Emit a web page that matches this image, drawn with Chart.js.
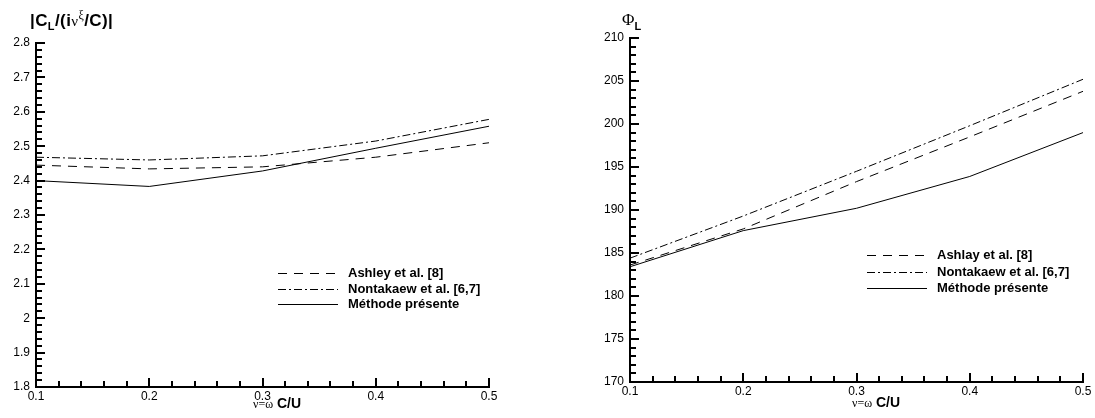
<!DOCTYPE html>
<html>
<head>
<meta charset="utf-8">
<script src="https://cdn.jsdelivr.net/npm/chart.js@4"></script>
<style>
  body { margin: 0; background: #fff; width: 1095px; height: 418px; position: relative; overflow: hidden; font-family: "Liberation Sans", Arial, sans-serif; color: #000; }
  canvas { position: absolute; top: 0; }
  .titre { position: absolute; white-space: nowrap; color: #000; line-height: 1; }
  .sym { font-family: "Liberation Serif", "DejaVu Serif", serif; font-weight: normal; color: #000; }
  .bas { position: relative; top: 4px; font-size: 11px; color: #000; }
  .haut { position: relative; top: -7px; font-size: 12px; }
</style>
</head>
<body>
<canvas id="grafCL" width="547" height="418" style="left:0"></canvas>
<canvas id="grafPhi" width="548" height="418" style="left:547px"></canvas>

<div class="titre" style="left:30px;top:12px;font-size:17px;font-weight:bold;letter-spacing:0.4px">|C<span class="bas">L</span>/(i<span class="sym" style="font-size:15px">ν</span><span class="sym haut">ξ</span>/C)|</div>
<div class="titre" style="left:253px;top:396px;font-size:14px;font-weight:bold"><span class="sym" style="font-size:12px">ν=ω</span> C/U</div>

<div class="titre" style="left:622px;top:11px;font-size:17px"><span class="sym">Φ</span><span class="bas" style="font-weight:bold;font-size:11px;top:5px">L</span></div>
<div class="titre" style="left:852px;top:395px;font-size:14px;font-weight:bold"><span class="sym" style="font-size:12px">ν=ω</span> C/U</div>

<script>
// nu = omega C / U
const nu = [0.1, 0.2, 0.3, 0.4, 0.5];

// |CL/(i nu xi / C)|
const clAshley = [2.445, 2.434, 2.440, 2.468, 2.510];
const clNontakaew = [2.468, 2.460, 2.472, 2.515, 2.578];
const clPresente = [2.400, 2.383, 2.428, 2.494, 2.558];

// phase Phi_L
const phiAshlay = [183.6, 187.8, 193.3, 198.5, 203.8];
const phiNontakaew = [184.4, 189.3, 194.5, 199.8, 205.2];
const phiPresente = [183.4, 187.6, 190.2, 193.9, 199.0];

const legendeCL = ['Ashley et al. [8]', 'Nontakaew et al. [6,7]', 'Méthode présente'];
const legendePhi = ['Ashlay et al. [8]', 'Nontakaew et al. [6,7]', 'Méthode présente'];

const TIRETS = [9, 7];
const TIRET_POINT = [8, 3, 2, 3];
const FONTE = '"Liberation Sans", Arial, sans-serif';

function serie(label, ys, dash) {
  return {
    label: label,
    data: nu.map((x, i) => ({ x: x, y: ys[i] })),
    borderColor: '#000',
    borderWidth: 1,
    borderDash: dash,
    pointRadius: 0,
    tension: 0,
    fill: false
  };
}

function estMajeur(v, pas) {
  const q = v / pas;
  return Math.abs(q - Math.round(q)) < 1e-6;
}

// petites graduations vers l'interieur, comme Tecplot
const graduations = {
  id: 'graduations',
  afterDraw(chart, args, opts) {
    const ctx = chart.ctx, a = chart.chartArea;
    const sx = chart.scales.x, sy = chart.scales.y;
    ctx.save();
    ctx.setLineDash([]);
    ctx.strokeStyle = '#000';
    ctx.lineWidth = 2;
    ctx.beginPath();
    sx.ticks.forEach(t => {
      const px = Math.round(sx.getPixelForValue(t.value));
      const l = estMajeur(t.value, 0.1) ? 9 : 6;
      ctx.moveTo(px, a.bottom);
      ctx.lineTo(px, a.bottom - l);
    });
    sy.ticks.forEach(t => {
      const py = Math.round(sy.getPixelForValue(t.value));
      const l = estMajeur(t.value, opts.pasMajeur) ? 9 : 6;
      ctx.moveTo(a.left, py);
      ctx.lineTo(a.left + l, py);
    });
    ctx.stroke();
    ctx.restore();
  }
};

const legendeInterne = {
  id: 'legendeInterne',
  afterDraw(chart, args, opts) {
    const ctx = chart.ctx;
    ctx.save();
    ctx.font = 'bold 13px ' + FONTE;
    ctx.textBaseline = 'middle';
    ctx.fillStyle = '#000';
    chart.data.datasets.forEach((ds, i) => {
      const y = Math.round(opts.y + i * opts.pas) + 0.5;
      ctx.strokeStyle = '#000';
      ctx.lineWidth = 1;
      ctx.setLineDash(ds.borderDash || []);
      ctx.beginPath();
      ctx.moveTo(opts.x, y);
      ctx.lineTo(opts.x + 60, y);
      ctx.stroke();
      ctx.setLineDash([]);
      ctx.fillText(ds.label, opts.x + 70, y);
    });
    ctx.restore();
  }
};

function options(cfg) {
  return {
    responsive: false,
    animation: false,
    layout: { padding: cfg.padding },
    plugins: {
      legend: { display: false },
      tooltip: { enabled: false },
      legendeInterne: cfg.legende,
      graduations: { pasMajeur: cfg.pasMajeur }
    },
    scales: {
      x: {
        type: 'linear',
        min: 0.1, max: 0.5,
        afterFit: s => { s.height = cfg.hauteurX; },
        grid: { drawOnChartArea: false, drawTicks: false },
        border: { display: true, color: '#000', width: 2 },
        ticks: {
          stepSize: 0.02, autoSkip: false, maxRotation: 0, padding: 2,
          color: '#000', font: { family: FONTE, size: 12 },
          callback: v => estMajeur(v, 0.1) ? String(Math.round(v * 10) / 10) : ''
        }
      },
      y: {
        min: cfg.ymin, max: cfg.ymax,
        afterFit: s => { s.width = cfg.largeurY; },
        grid: { drawOnChartArea: false, drawTicks: false },
        border: { display: true, color: '#000', width: 2 },
        ticks: {
          stepSize: cfg.pasMineur, autoSkip: false, padding: 6,
          color: '#000', font: { family: FONTE, size: 12 },
          callback: v => estMajeur(v, cfg.pasMajeur) ? String(Math.round(v * 100) / 100) : ''
        }
      }
    }
  };
}

new Chart(document.getElementById('grafCL'), {
  type: 'line',
  data: {
    datasets: [
      serie(legendeCL[0], clAshley, TIRETS),
      serie(legendeCL[1], clNontakaew, TIRET_POINT),
      serie(legendeCL[2], clPresente, [])
    ]
  },
  options: options({
    padding: { top: 43, right: 58, left: 0, bottom: 0 },
    hauteurX: 31, largeurY: 36,
    ymin: 1.8, ymax: 2.8, pasMineur: 0.02, pasMajeur: 0.1,
    legende: { x: 278, y: 273, pas: 15.5 }
  }),
  plugins: [graduations, legendeInterne]
});

new Chart(document.getElementById('grafPhi'), {
  type: 'line',
  data: {
    datasets: [
      serie(legendePhi[0], phiAshlay, TIRETS),
      serie(legendePhi[1], phiNontakaew, TIRET_POINT),
      serie(legendePhi[2], phiPresente, [])
    ]
  },
  options: options({
    padding: { top: 38, right: 12, left: 0, bottom: 0 },
    hauteurX: 36, largeurY: 83,
    ymin: 170, ymax: 210, pasMineur: 1, pasMajeur: 5,
    legende: { x: 320, y: 255, pas: 16.5 }
  }),
  plugins: [graduations, legendeInterne]
});
</script>
</body>
</html>
